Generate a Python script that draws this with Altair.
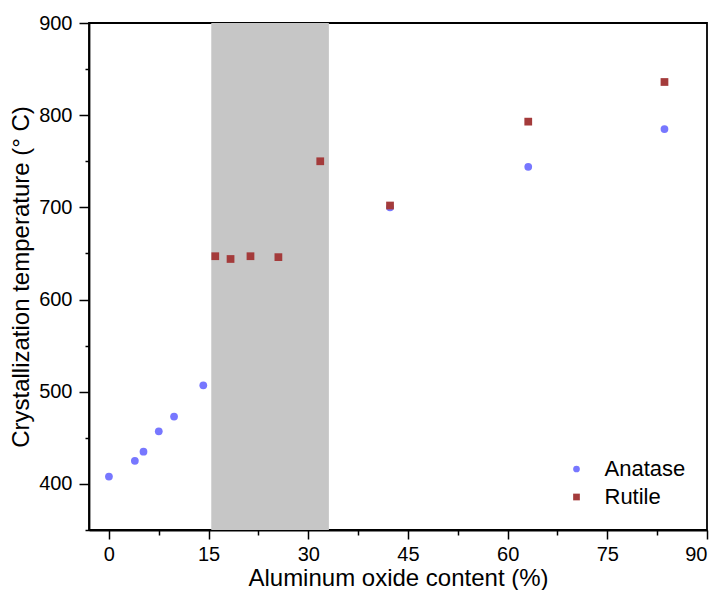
import altair as alt
import pandas as pd

# ---- data ----
anatase_x = [0.0, 3.9, 5.2, 7.5, 9.8, 14.2, 42.3, 63.1, 83.6]
anatase_y = [408, 425, 435, 457, 473, 507, 700, 744, 785]
rutile_x = [16.0, 18.3, 21.3, 25.5, 31.8, 42.3, 63.1, 83.6]
rutile_y = [647, 644, 647, 646, 750, 702, 793, 836]
series_names = ["Anatase", "Rutile"]
shade_start = [15.4]
shade_end = [33.1]

x_major = [0, 15, 30, 45, 60, 75, 90]
x_minor = [7.5, 22.5, 37.5, 52.5, 67.5, 82.5]
y_major = [400, 500, 600, 700, 800, 900]
y_minor = [350, 450, 550, 650, 750, 850]

FONT = "Liberation Sans"

pts = pd.DataFrame({
    "x": anatase_x + rutile_x,
    "y": anatase_y + rutile_y,
    "series": [series_names[0]] * len(anatase_x) + [series_names[1]] * len(rutile_x),
})
shade_df = pd.DataFrame({"x0": shade_start, "x1": shade_end})

xscale = alt.Scale(domain=[-3, 90], nice=False, zero=False)
yscale = alt.Scale(domain=[350, 900], nice=False, zero=False)

x_axis_major = alt.Axis(values=x_major, orient="bottom", title="Aluminum oxide content (%)",
                        tickSize=9, labelPadding=5, titlePadding=2, format="d")
y_axis_major = alt.Axis(values=y_major, orient="left", title="Crystallization temperature (° C)",
                        tickSize=10, labelPadding=7, titlePadding=5, format="d")
x_axis_minor = alt.Axis(values=x_minor, orient="bottom", title=None, labels=False,
                        tickSize=5, domain=False)
y_axis_minor = alt.Axis(values=y_minor, orient="left", title=None, labels=False,
                        tickSize=4, domain=False)

shade = alt.Chart(shade_df).mark_rect(color="#c6c6c6").encode(
    x=alt.X("x0:Q", scale=xscale, axis=x_axis_major),
    x2="x1:Q",
    y=alt.YDatum(350, type="quantitative", scale=yscale, axis=y_axis_major),
    y2=alt.Y2Datum(900),
)

legend = alt.Legend(title=None, orient="none", legendX=476.5, legendY=435,
                    labelFontSize=22, labelFont=FONT, symbolSize=45,
                    labelOffset=17, rowPadding=6, symbolStrokeWidth=0)

points = alt.Chart(pts).mark_point(filled=True, size=60, opacity=1).encode(
    x=alt.X("x:Q", scale=xscale, axis=x_axis_minor),
    y=alt.Y("y:Q", scale=yscale, axis=y_axis_minor),
    color=alt.Color("series:N", scale=alt.Scale(domain=series_names, range=["#7777ff", "#a43b3b"]),
                    legend=legend),
    shape=alt.Shape("series:N", scale=alt.Scale(domain=series_names, range=["circle", "square"]),
                    legend=legend),
)

chart = alt.layer(shade, points).resolve_axis(x="independent", y="independent").properties(
    width=618, height=507,
    autosize=alt.AutoSizeParams(type="none"),
    padding={"left": 81, "top": 15, "right": 2, "bottom": 60},
).configure_axis(
    labelFont=FONT, titleFont=FONT, labelFontSize=20, titleFontSize=24,
    labelColor="black", titleColor="black", domainColor="black", tickColor="black",
    domainWidth=1.8, tickWidth=1.5, grid=False, titleFontWeight="normal",
).configure_view(stroke="black", strokeWidth=1.8)

chart.save("out.html", embed_options={"renderer": "svg", "actions": False})
